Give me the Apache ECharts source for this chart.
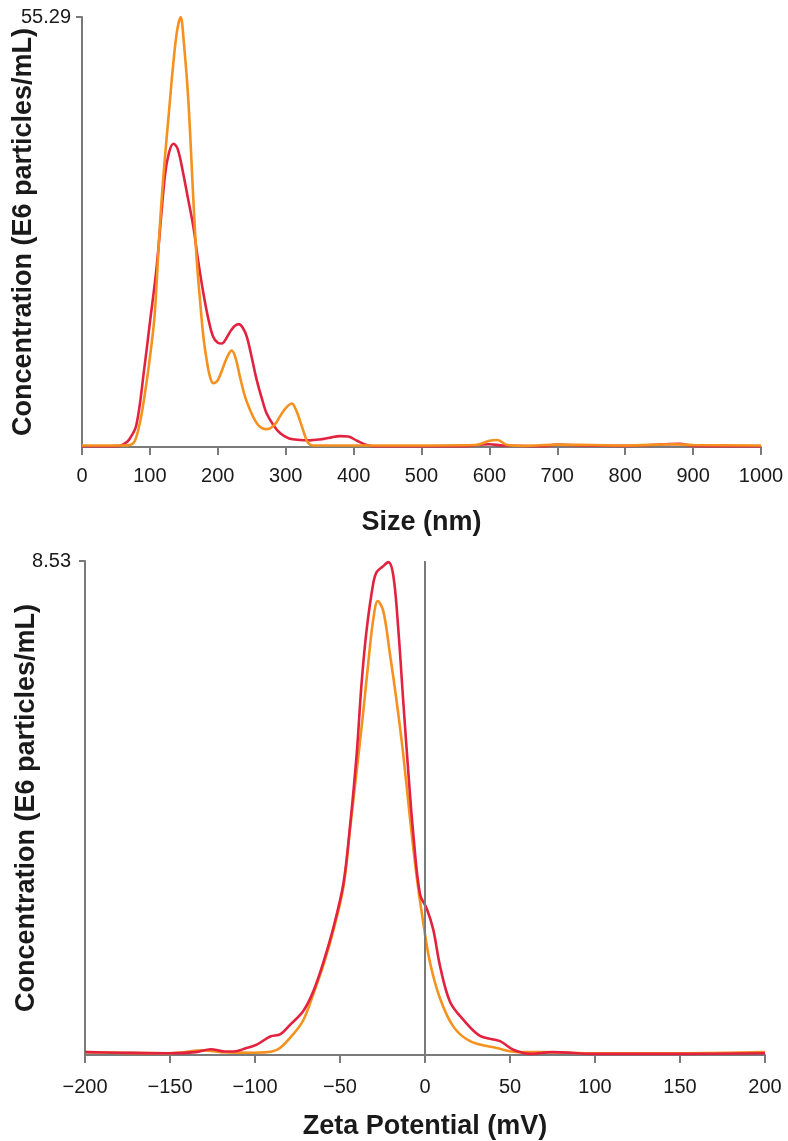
<!DOCTYPE html>
<html>
<head>
<meta charset="utf-8">
<script src="https://cdn.jsdelivr.net/npm/echarts@6/dist/echarts.min.js"></script>
<style>
html,body{margin:0;padding:0;background:#fff;}
#chart{width:788px;height:1141px;}
</style>
</head>
<body>
<div id="chart"></div>
<script>
// ---- Data: top panel (size distribution) ----
var sizeTicks = [0,100,200,300,400,500,600,700,800,900,1000];
var sizeYMax = 55.29;
var sizeRed = [
  [0,0.1],[40,0.1],[55,0.15],[62,0.4],[69,0.9],[80,2.8],[92,10.3],[100,16],[110,23.2],[122,34.8],
  [128,37.8],[134.6,39.0],[141,38.3],[149,35.2],[156,32],[164,28.3],[171,24],[178.7,19.8],[186,16.5],
  [193,14.2],[200,13.4],[206,13.3],[212,13.9],[218,14.8],[224,15.5],[230.5,15.8],[237,15.3],[243,14.1],
  [250,11.5],[257.4,8.6],[265,6.2],[272,4.3],[282,2.8],[292,1.76],[305,1.1],[321,0.9],[335,0.85],
  [350,0.97],[365,1.2],[380,1.4],[392,1.35],[405,0.8],[418,0.3],[430,0.1],[500,0.1],[560,0.1],
  [600,0.35],[620,0.2],[680,0.1],[700,0.3],[730,0.2],[800,0.15],[860,0.35],[880,0.4],[900,0.15],[1000,0.1]
];
var sizeOrange = [
  [0,0.2],[60,0.2],[72,0.3],[78,0.8],[85,3],[92,6.5],[100,11.5],[107,17],[114,27.5],[120,35],
  [128,43],[134,48.9],[140,53.5],[145.3,55.29],[150,52],[156.6,44.6],[164,31.8],[169,24],[173.8,18.9],
  [179,14],[183.6,11.2],[188,9.2],[193.4,8.2],[200,8.6],[208,10.3],[214,11.6],[220.4,12.4],[226,11.5],
  [232.7,9.0],[240,6.5],[247.5,4.76],[255,3.4],[262,2.6],[270,2.3],[277,2.4],[285,3.0],[292,4.0],
  [300,5.0],[309,5.6],[315,4.8],[321,3.4],[327,1.8],[333,0.5],[340,0.2],[400,0.2],[500,0.2],[580,0.25],
  [600,0.8],[612,0.9],[625,0.3],[650,0.15],[700,0.3],[750,0.25],[800,0.2],[870,0.35],[900,0.25],[1000,0.2]
];

// ---- Data: bottom panel (zeta potential) ----
var zetaTicks = [-200,-150,-100,-50,0,50,100,150,200];
var zetaYMax = 8.53;
var zetaRed = [
  [-200,0.05],[-180,0.04],[-150,0.03],[-135,0.05],[-126,0.1],[-118,0.06],[-112.7,0.06],[-105,0.12],
  [-99,0.18],[-91,0.32],[-85,0.36],[-79.4,0.52],[-71.6,0.76],[-65.7,1.1],[-59.8,1.6],[-53.9,2.2],
  [-48,2.96],[-44.1,3.95],[-40.2,5.19],[-37.3,6.42],[-34.3,7.35],[-30.4,8.15],[-28.4,8.34],[-25,8.43],
  [-21.6,8.51],[-18.6,8.27],[-15.7,7.35],[-12.8,6.11],[-9.8,4.88],[-6.9,3.82],[-2.9,2.77],[1,2.53],
  [4.9,2.16],[8.8,1.54],[14.7,0.92],[22.5,0.61],[32.4,0.33],[44.1,0.24],[52,0.09],[61.8,0.02],
  [75,0.05],[100,0.02],[150,0.02],[200,0.03]
];
var zetaOrange = [
  [-200,0.05],[-150,0.03],[-130,0.08],[-120,0.05],[-100,0.04],[-90,0.06],[-85.3,0.12],[-77.5,0.36],
  [-71.6,0.6],[-65.7,1.05],[-59.8,1.55],[-53.9,2.15],[-48,2.9],[-44.1,3.9],[-40.2,4.9],[-36.3,5.93],
  [-33.3,6.79],[-30.4,7.53],[-27.8,7.84],[-24.5,7.66],[-20.6,6.92],[-16.7,6.11],[-12.8,5.19],[-8.8,4.08],
  [-4.9,3.08],[-1,2.28],[2.9,1.6],[8.8,0.98],[16.7,0.49],[26.5,0.24],[42.2,0.12],[55,0.05],[70,0.05],
  [100,0.03],[150,0.03],[200,0.05]
];

var xTitleTop = 'Size (nm)';
var xTitleBottom = 'Zeta Potential (mV)';
var yTitle = 'Concentration (E6 particles/mL)';

var RED = '#e2223f';
var ORANGE = '#f5911f';
var AXIS = '#7a7a7a';
var FONT = '"Liberation Sans", Arial, sans-serif';

function minusFmt(v){ return v < 0 ? '\u2212' + Math.abs(v) : String(v); }

function xAxisCfg(idx, ticks, title, labelMargin, nameGap){
  return {
    type:'value', gridIndex: idx, min: ticks[0], max: ticks[ticks.length-1],
    interval: ticks[1]-ticks[0],
    name: title, nameLocation:'middle', nameGap: nameGap, nameMoveOverlap:false,
    nameTextStyle:{fontFamily:FONT, fontSize:27, fontWeight:'bold', color:'#1a1a1a'},
    axisLine:{show:true, onZero:false, lineStyle:{color:AXIS, width:2}},
    axisTick:{show:true, inside:false, length:8, lineStyle:{color:AXIS, width:2}},
    axisLabel:{fontFamily:FONT, fontSize:20, color:'#1a1a1a', margin:labelMargin, formatter: minusFmt,
               showMinLabel:true, showMaxLabel:true},
    splitLine:{show:false}
  };
}
function yAxisCfg(idx, ymax, labelMargin){
  return {
    type:'value', gridIndex: idx, min:0, max: ymax,
    name: yTitle, nameLocation:'middle', nameGap: 45, nameMoveOverlap:false,
    nameTextStyle:{fontFamily:FONT, fontSize:27, fontWeight:'bold', color:'#1a1a1a'},
    axisLine:{show:true, onZero:false, lineStyle:{color:AXIS, width:2}},
    axisTick:{show:true, length:6, customValues:[ymax], lineStyle:{color:AXIS, width:2}},
    axisLabel:{fontFamily:FONT, fontSize:20, color:'#1a1a1a', margin:labelMargin, customValues:[ymax],
               formatter: function(v){ return v.toFixed(2); }},
    splitLine:{show:false}
  };
}
function lineSeries(name, data, color, xi, yi, z){
  return {
    name:name, type:'line', xAxisIndex:xi, yAxisIndex:yi, data:data,
    smooth:0.35, showSymbol:false, symbol:'none', z:z,
    lineStyle:{color:color, width:2.6}, itemStyle:{color:color}
  };
}

var chart = echarts.init(document.getElementById('chart'), null, {renderer:'canvas'});
var zeroLineSeries = lineSeries('Sample A (zeta)', zetaRed, RED, 1, 1, 4);
zeroLineSeries.markLine = {
  silent:true, symbol:['none','none'], label:{show:false},
  lineStyle:{color:AXIS, width:2, type:'solid'},
  data:[{xAxis:0}]
};
chart.setOption({
  animation:false,
  backgroundColor:'#ffffff',
  grid:[
    {left:82, top:17, width:679, height:430, outerBoundsMode:'none', containLabel:false},
    {left:85, top:561, width:680, height:494, outerBoundsMode:'none', containLabel:false}
  ],
  xAxis:[ xAxisCfg(0, sizeTicks, xTitleTop, 19, 62), xAxisCfg(1, zetaTicks, xTitleBottom, 22, 58) ],
  yAxis:[ yAxisCfg(0, sizeYMax, 11), yAxisCfg(1, zetaYMax, 14) ],
  series:[
    lineSeries('Sample A (size)', sizeRed, RED, 0, 0, 3),
    lineSeries('Sample B (size)', sizeOrange, ORANGE, 0, 0, 4),
    lineSeries('Sample B (zeta)', zetaOrange, ORANGE, 1, 1, 3),
    zeroLineSeries
  ]
});
</script>
</body>
</html>
